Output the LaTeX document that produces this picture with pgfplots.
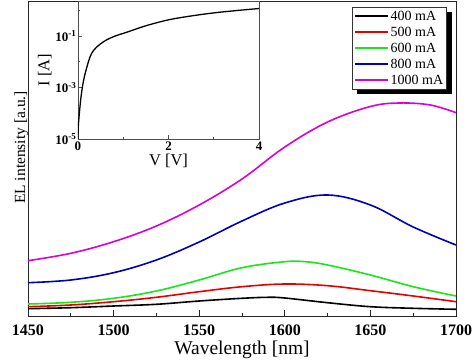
\documentclass[border=0pt]{standalone}
\usepackage{fontspec}
\setmainfont{Liberation Serif}
\usepackage{pgfplots}
\pgfplotsset{compat=1.18}
\usetikzlibrary{calc}
\definecolor{cred}{rgb}{0.9,0,0}
\definecolor{cgreen}{rgb}{0.1,0.9,0.1}
\definecolor{cblue}{rgb}{0,0,0.72}
\definecolor{cmag}{rgb}{0.85,0,0.85}
\begin{document}
\begin{tikzpicture}
\begin{axis}[
  scale only axis, width=428pt, height=315pt,
  xmin=1450, xmax=1700, ymin=0, ymax=315,
  axis line style={black!85, line width=0.9pt},
  xtick={1450,1500,...,1700}, minor xtick={1475,1525,...,1675},
  xtick pos=bottom, tick align=inside,
  major tick length=6pt, minor tick length=3pt,
  every tick/.style={black!85, line width=0.8pt},
  ytick=\empty,
  /pgf/number format/assume math mode=true,
  /pgf/number format/set thousands separator={},
  xticklabel style={font=\fontsize{16}{18}\selectfont\bfseries, yshift=-5pt},
  xlabel={Wavelength [nm]},
  xlabel style={font=\fontsize{19.5}{21}\selectfont, yshift=1.5pt},
  ylabel={EL intensity [a.u.]},
  ylabel style={font=\fontsize{15.5}{17}\selectfont, at={(axis description cs:0,0.535)}, yshift=-4pt},
  legend cell align=left,
  legend style={at={(0.979,0.981)}, anchor=north east, draw=black!80, line width=0.6pt,
    font=\fontsize{14}{16}\selectfont, row sep=1.2pt, inner sep=1.5pt, name=leg},
  legend image code/.code={\draw[#1, line width=1.6pt] (0pt,0pt) -- (33pt,0pt);},
]
\addplot[black, line width=1.6pt, smooth, tension=0.6] coordinates {(1450,7.3)(1475,8.3)(1500,10)(1525,11.7)(1550,15)(1575,17.7)(1590,18.7)(1600,18)(1625,13.3)(1650,9.3)(1675,7.7)(1700,6.7)};
\addlegendentry{400 mA}
\addplot[cred, line width=1.6pt, smooth, tension=0.6] coordinates {(1450,9.3)(1475,11)(1500,14.3)(1525,18.7)(1550,24.3)(1575,29.3)(1600,32)(1625,30.3)(1650,25.3)(1675,20)(1700,14.3)};
\addlegendentry{500 mA}
\addplot[cgreen, line width=1.6pt, smooth, tension=0.6] coordinates {(1450,12)(1475,13.7)(1500,17.7)(1525,25)(1550,36)(1575,48.3)(1600,54.3)(1612,54.3)(1625,51)(1650,41)(1675,29.3)(1700,20)};
\addlegendentry{600 mA}
\addplot[cblue, line width=1.6pt, smooth, tension=0.6] coordinates {(1450,33.3)(1475,36)(1500,43.3)(1525,56)(1550,74)(1575,95)(1600,113)(1625,121)(1650,111)(1675,89)(1700,71)};
\addlegendentry{800 mA}
\addplot[cmag, line width=1.6pt, smooth, tension=0.6] coordinates {(1450,55.3)(1475,62.7)(1500,74.3)(1525,90)(1550,111)(1575,137)(1600,169)(1625,194)(1650,209.5)(1667,213)(1685,211)(1700,203.3)};
\addlegendentry{1000 mA}
\end{axis}
\fill[black] ($(leg.north east)+(0.3pt,-5pt)$) rectangle ($(leg.south east)+(5pt,-5pt)$);
\fill[black] ($(leg.south west)+(5pt,-0.3pt)$) rectangle ($(leg.south east)+(5pt,-5pt)$);
\begin{axis}[
  at={(50pt,177pt)}, anchor=south west,
  scale only axis, width=181pt, height=138pt,
  xmin=0, xmax=4, ymode=log, ymin=1e-5, ymax=2.3,
  axis background/.style={fill=white},
  axis line style={black!70, line width=0.8pt},
  tick align=inside, major tick length=4pt, minor tick length=2.5pt,
  every tick/.style={black!70, line width=0.7pt},
  xtick={0,2,4}, minor xtick={1,3},
  ytick={1e-5,1e-3,1e-1}, minor ytick={1e-4,1e-2,1},
  xtick pos=bottom, ytick pos=left,
  xticklabels={\textbf{0},\textbf{2},\textbf{4}},
  yticklabels={\textbf{10\textsuperscript{-5}},\textbf{10\textsuperscript{-3}},\textbf{10\textsuperscript{-1}}},
  xticklabel style={font=\fontsize{13}{14}\selectfont, yshift=1pt},
  yticklabel style={font=\fontsize{13}{14}\selectfont, xshift=2pt},
  xlabel={V [V]}, ylabel={I [A]},
  xlabel style={font=\fontsize{16.5}{18}\selectfont, yshift=3pt},
  ylabel style={font=\fontsize{16.5}{18}\selectfont, yshift=-3pt},
]
\addplot[black, line width=1.3pt, smooth] coordinates {(0,1e-5)(0.007,3.1e-5)(0.03,1e-4)(0.059,3.3e-4)(0.096,1e-3)(0.14,2.6e-3)(0.23,1e-2)(0.30,2.1e-2)(0.41,3.7e-2)(0.6,6.6e-2)(0.82,0.1)(1.08,0.141)(1.5,0.251)(2.0,0.427)(2.5,0.603)(3.0,0.794)(3.5,0.977)(4,1.175)};
\end{axis}
\pgfresetboundingbox
\path (-28pt,-48pt) rectangle (446pt,316pt);
\end{tikzpicture}
\end{document}
